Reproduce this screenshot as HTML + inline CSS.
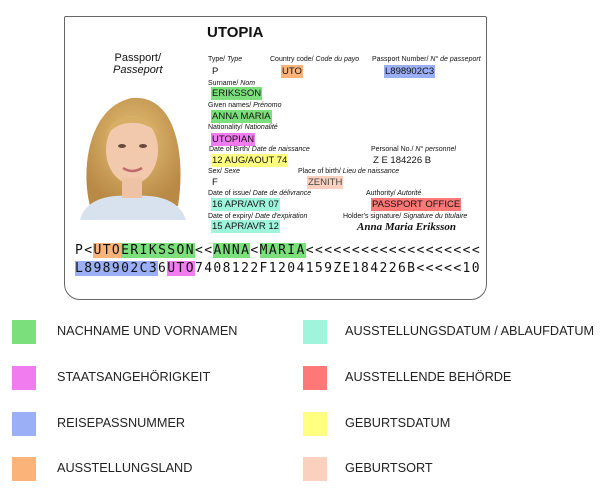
<!DOCTYPE html>
<html><head><meta charset="utf-8"><style>
body{margin:0;width:600px;height:493px;background:#fff;position:relative;overflow:hidden;font-family:"Liberation Sans",sans-serif;color:#111}
.a{position:absolute;white-space:nowrap}
.card{position:absolute;left:64px;top:16px;width:423px;height:284px;border:1.5px solid #666;border-top-width:1px;border-radius:2px 2px 16px 16px;box-sizing:border-box}
.l{font-size:7px;font-style:italic}
.l b{font-weight:normal;font-style:normal}
.v{font-size:9.5px;padding:1px 1px;line-height:11px}
.mrz{font-family:"DejaVu Sans Mono",monospace;font-size:13px;letter-spacing:1.4px;line-height:18px}
.g{background:#7be07b}.m{background:#f07cf0}.b{background:#9aaff5}.o{background:#fbb37a}.t{background:#9ff5dc}.r{background:#ff7878}.y{background:#ffff80}.p{background:#fbd0bf}
.sq{position:absolute;width:24px;height:24px}
.lg{position:absolute;font-size:12.7px;color:#222}
</style></head><body>
<div class="card"></div>
<div class="a" style="left:207px;top:24px;font-size:15px;font-weight:bold">UTOPIA</div>
<div class="a" style="left:113px;top:52px;font-size:11px;text-align:center;line-height:12px">Passport/<br><i>Passeport</i></div>
<svg class="a" style="left:80px;top:86px" width="106" height="134" viewBox="0 0 106 134">
<defs><radialGradient id="h" cx="50%" cy="40%" r="60%"><stop offset="0" stop-color="#e8c27a"/><stop offset="1" stop-color="#b88a45"/></radialGradient></defs>
<path d="M10 120 C0 80 10 20 52 12 C96 8 106 70 98 120 Z" fill="url(#h)"/>
<path d="M0 134 C5 115 25 108 52 110 C80 108 100 115 106 134 Z" fill="#d8e2ee"/>
<ellipse cx="52" cy="64" rx="26" ry="34" fill="#f2c9ad"/>
<rect x="42" y="92" width="20" height="20" fill="#eec3a5"/>
<path d="M26 50 C30 25 70 22 80 50 C70 35 40 30 26 50Z" fill="#d7ae63"/>
<ellipse cx="42" cy="60" rx="4" ry="2" fill="#6b4a3a"/><ellipse cx="63" cy="60" rx="4" ry="2" fill="#6b4a3a"/>
<path d="M43 82 Q52 88 62 82" stroke="#c06a6a" stroke-width="2.5" fill="none"/>
</svg>
<div class="a l" style="left:208px;top:56px"><b>Type/</b> Type</div>
<div class="a v" style="left:211px;top:65px">P</div>
<div class="a l" style="left:270px;top:56px"><b>Country code/</b> Code du payo</div>
<div class="a v o" style="left:281px;top:65px">UTO</div>
<div class="a l" style="left:372px;top:56px"><b>Passport Number/</b> N° de passeport</div>
<div class="a v b" style="left:384px;top:65px">L898902C3</div>
<div class="a l" style="left:208px;top:80px"><b>Surname/</b> Nom</div>
<div class="a v g" style="left:211px;top:87px">ERIKSSON</div>
<div class="a l" style="left:208px;top:102px"><b>Given names/</b> Prénomo</div>
<div class="a v g" style="left:211px;top:110px">ANNA MARIA</div>
<div class="a l" style="left:208px;top:124px"><b>Nationality/</b> Nationalité</div>
<div class="a v m" style="left:211px;top:133px">UTOPIAN</div>
<div class="a l" style="left:209px;top:146px"><b>Date of Birth/</b> Date de naissance</div>
<div class="a v y" style="left:211px;top:154px">12 AUG/AOUT 74</div>
<div class="a l" style="left:371px;top:146px"><b>Personal No./</b> N° personnel</div>
<div class="a v" style="left:372px;top:154px">Z E 184226 B</div>
<div class="a l" style="left:208px;top:168px"><b>Sex/</b> Sexe</div>
<div class="a v" style="left:211px;top:176px">F</div>
<div class="a l" style="left:298px;top:168px"><b>Place of birth/</b> Lieu de naissance</div>
<div class="a v p" style="left:307px;top:176px;color:#444">ZENITH</div>
<div class="a l" style="left:208px;top:190px"><b>Date of issue/</b> Date de délivrance</div>
<div class="a v t" style="left:211px;top:198px">16 APR/AVR 07</div>
<div class="a l" style="left:366px;top:190px"><b>Authority/</b> Autorité</div>
<div class="a v r" style="left:371px;top:198px">PASSPORT OFFICE</div>
<div class="a l" style="left:208px;top:213px"><b>Date of expiry/</b> Date d'expiration</div>
<div class="a v t" style="left:211px;top:220px">15 APR/AVR 12</div>
<div class="a l" style="left:343px;top:213px"><b>Holder's signature/</b> Signature du titulaire</div>
<div class="a" style="left:357px;top:221px;font-family:'Liberation Serif',serif;font-style:italic;font-weight:bold;font-size:11px">Anna Maria Eriksson</div>
<div class="a mrz" style="left:75px;top:242px">P&lt;<span class="o">UTO</span><span class="g">ERIKSSON</span>&lt;&lt;<span class="g">ANNA</span>&lt;<span class="g">MARIA</span>&lt;&lt;&lt;&lt;&lt;&lt;&lt;&lt;&lt;&lt;&lt;&lt;&lt;&lt;&lt;&lt;&lt;&lt;&lt;<br><span class="b">L898902C3</span>6<span class="m">UTO</span>7408122F1204159ZE184226B&lt;&lt;&lt;&lt;&lt;10</div>
<div class="sq g" style="left:12px;top:320px"></div><div class="lg" style="left:57px;top:324px">NACHNAME UND VORNAMEN</div>
<div class="sq m" style="left:12px;top:366px"></div><div class="lg" style="left:57px;top:370px">STAATSANGEHÖRIGKEIT</div>
<div class="sq b" style="left:12px;top:412px"></div><div class="lg" style="left:57px;top:416px">REISEPASSNUMMER</div>
<div class="sq o" style="left:12px;top:457px"></div><div class="lg" style="left:57px;top:461px">AUSSTELLUNGSLAND</div>
<div class="sq t" style="left:303px;top:320px"></div><div class="lg" style="left:345px;top:324px">AUSSTELLUNGSDATUM / ABLAUFDATUM</div>
<div class="sq r" style="left:303px;top:366px"></div><div class="lg" style="left:345px;top:370px">AUSSTELLENDE BEHÖRDE</div>
<div class="sq y" style="left:303px;top:412px"></div><div class="lg" style="left:345px;top:416px">GEBURTSDATUM</div>
<div class="sq p" style="left:303px;top:457px"></div><div class="lg" style="left:345px;top:461px">GEBURTSORT</div>
</body></html>
